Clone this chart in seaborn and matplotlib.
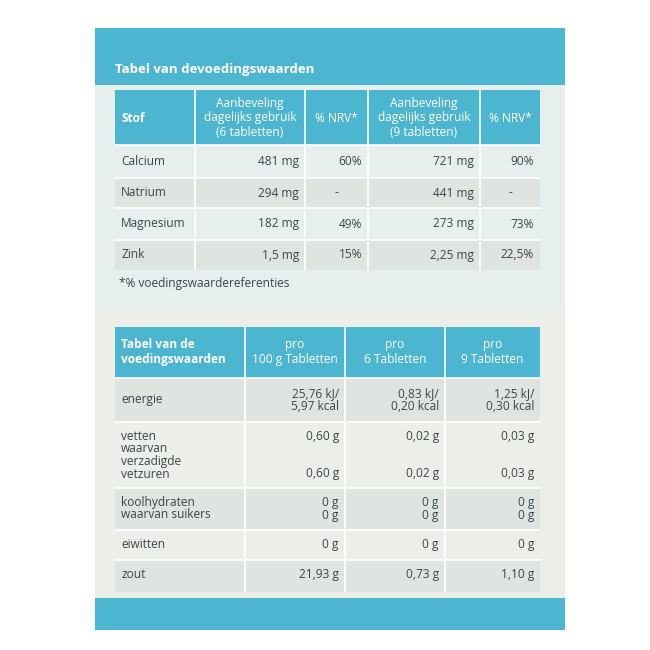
import matplotlib
matplotlib.use("Agg")
import matplotlib.pyplot as plt
from matplotlib.patches import Rectangle
import seaborn as sns

sns.set_theme(style="white")
plt.rcParams['font.family'] = ['Open Sans', 'DejaVu Sans']

# tabel 1
t1_title = "Tabel van devoedingswaarden"
t1_header = ["Stof", "Aanbeveling\ndagelijks gebruik\n(6 tabletten)", "% NRV*",
             "Aanbeveling\ndagelijks gebruik\n(9 tabletten)", "% NRV*"]
t1_stof = ["Calcium", "Natrium", "Magnesium", "Zink"]
t1_dose6 = ["481 mg", "294 mg", "182 mg", "1,5 mg"]
t1_nrv6 = ["60%", "-", "49%", "15%"]
t1_dose9 = ["721 mg", "441 mg", "273 mg", "2,25 mg"]
t1_nrv9 = ["90%", "-", "73%", "22,5%"]
t1_note = "*% voedingswaardereferenties"

# tabel 2
t2_header = ["Tabel van de\nvoedingswaarden", "pro\n100 g Tabletten", "pro\n6 Tabletten", "pro\n9 Tabletten"]
t2_rows = ["energie", "vetten\nwaarvan\nverzadigde\nvetzuren", "koolhydraten\nwaarvan suikers", "eiwitten", "zout"]
t2_100g = ["25,76 kJ/\n5,97 kcal", "0,60 g\n\n\n0,60 g", "0 g\n0 g", "0 g", "21,93 g"]
t2_6t = ["0,83 kJ/\n0,20 kcal", "0,02 g\n\n\n0,02 g", "0 g\n0 g", "0 g", "0,73 g"]
t2_9t = ["1,25 kJ/\n0,30 kcal", "0,03 g\n\n\n0,03 g", "0 g\n0 g", "0 g", "1,10 g"]

blue = "#4cb6d1"
cream = "#eceee9"
band = "#e0e4e0"
txt = "#3d4448"
fs = 8.6

fig = plt.figure(figsize=(6.5, 6.5), dpi=100)
ax = fig.add_axes([0, 0, 1, 1])
ax.set_xlim(0, 650)
ax.set_ylim(650, 0)
ax.axis("off")

def rect(x0, y0, x1, y1, c, **kw):
    ax.add_patch(Rectangle((x0, y0), x1 - x0, y1 - y0, color=c, lw=0, **kw))

rect(95, 28, 565, 630, cream)
rect(95, 28, 565, 85, blue)
rect(95, 598, 565, 630, blue)
rect(95, 85, 565, 310, "#e4eff2", alpha=0.6)
ax.text(115, 70, t1_title, color="white", fontsize=9.5, fontweight="bold", va="center")

# tabel 1 layout
c1 = [115, 195, 305, 368, 480, 540]
r1 = [90, 145, 178, 208, 240, 270]
rect(c1[0], r1[0], c1[-1], r1[1], blue)
for i in range(4):
    if i % 2 == 1:
        rect(c1[0], r1[i + 1], c1[-1], r1[i + 2], band)
for x in c1[1:-1]:
    ax.plot([x, x], [r1[0], r1[-1]], color="white", lw=1.2)
for y in r1[1:-1]:
    ax.plot([c1[0], c1[-1]], [y, y], color="white", lw=1.2)
for j, h in enumerate(t1_header):
    if j == 0:
        ax.text(c1[0] + 6, 118, h, color="white", fontsize=fs, fontweight="bold", va="center")
    else:
        ax.text((c1[j] + c1[j + 1]) / 2, 118, h, color="white", fontsize=fs, ha="center", va="center", linespacing=1.1)
for i in range(4):
    y = (r1[i + 1] + r1[i + 2]) / 2
    ax.text(c1[0] + 6, y, t1_stof[i], color=txt, fontsize=fs, va="center")
    for j, col in enumerate([t1_dose6, t1_nrv6, t1_dose9, t1_nrv9]):
        ha = "center" if col[i] == "-" else "right"
        x = (c1[j + 1] + c1[j + 2]) / 2 if ha == "center" else c1[j + 2] - 6
        ax.text(x, y, col[i], color=txt, fontsize=fs, ha=ha, va="center")
ax.text(c1[0] + 4, 283, t1_note, color=txt, fontsize=fs, va="center")

# tabel 2 layout
c2 = [115, 245, 345, 445, 540]
r2 = [327, 378, 422, 488, 530, 560, 592]
rect(c2[0], r2[0], c2[-1], r2[1], blue)
for i in range(5):
    if i % 2 == 0:
        rect(c2[0], r2[i + 1], c2[-1], r2[i + 2], band)
for x in c2[1:-1]:
    ax.plot([x, x], [r2[0], r2[-1]], color="white", lw=1.2)
for y in r2[1:-1]:
    ax.plot([c2[0], c2[-1]], [y, y], color="white", lw=1.2)
for j, h in enumerate(t2_header):
    if j == 0:
        ax.text(c2[0] + 6, 352, h, color="white", fontsize=fs, fontweight="bold", va="center")
    else:
        ax.text((c2[j] + c2[j + 1]) / 2, 352, h, color="white", fontsize=fs, ha="center", va="center")
for i in range(5):
    if i == 0:
        yc = (r2[1] + r2[2]) / 2
        ax.text(c2[0] + 6, yc, t2_rows[i], color=txt, fontsize=fs, va="center")
        for j, col in enumerate([t2_100g, t2_6t, t2_9t]):
            ax.text(c2[j + 2] - 6, yc, col[i], color=txt, fontsize=fs, ha="right", va="center", linespacing=1.0)
        continue
    y0 = r2[i + 1] + 8
    ax.text(c2[0] + 6, y0, t2_rows[i], color=txt, fontsize=fs, va="top", linespacing=0.95)
    for j, col in enumerate([t2_100g, t2_6t, t2_9t]):
        ax.text(c2[j + 2] - 6, y0, col[i], color=txt, fontsize=fs, ha="right", va="top", linespacing=0.95)

fig.savefig("out.png", dpi=100, facecolor="white")
